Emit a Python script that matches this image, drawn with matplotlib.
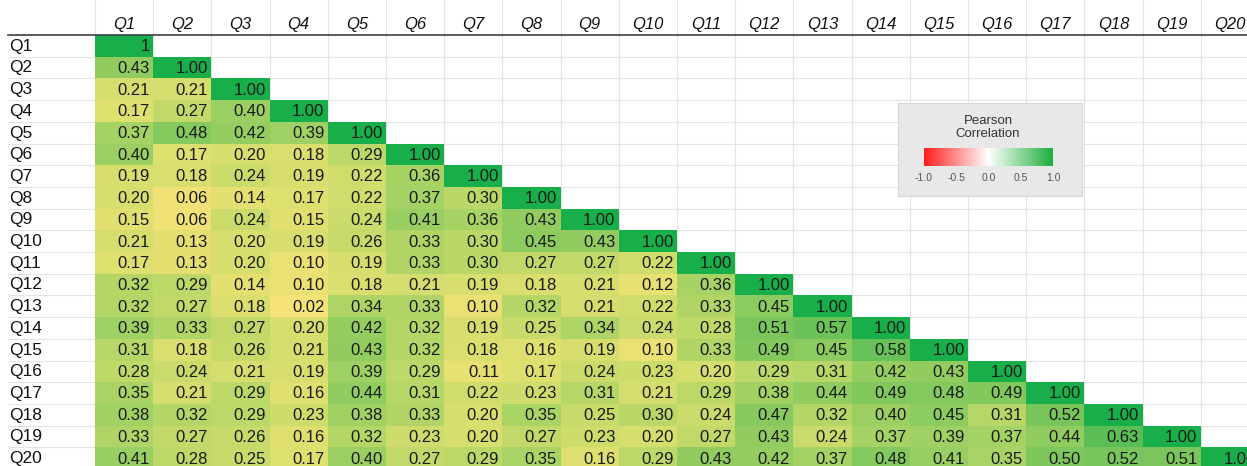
import numpy as np
import matplotlib.pyplot as plt
from matplotlib.colors import LinearSegmentedColormap, Normalize

plt.rcParams['font.family'] = ['Liberation Sans', 'DejaVu Sans']

questions = [f'Q{i}' for i in range(1, 21)]

# lower triangle, row by row (diagonal included)
rows = [
    [1],
    [0.43, 1.00],
    [0.21, 0.21, 1.00],
    [0.17, 0.27, 0.40, 1.00],
    [0.37, 0.48, 0.42, 0.39, 1.00],
    [0.40, 0.17, 0.20, 0.18, 0.29, 1.00],
    [0.19, 0.18, 0.24, 0.19, 0.22, 0.36, 1.00],
    [0.20, 0.06, 0.14, 0.17, 0.22, 0.37, 0.30, 1.00],
    [0.15, 0.06, 0.24, 0.15, 0.24, 0.41, 0.36, 0.43, 1.00],
    [0.21, 0.13, 0.20, 0.19, 0.26, 0.33, 0.30, 0.45, 0.43, 1.00],
    [0.17, 0.13, 0.20, 0.10, 0.19, 0.33, 0.30, 0.27, 0.27, 0.22, 1.00],
    [0.32, 0.29, 0.14, 0.10, 0.18, 0.21, 0.19, 0.18, 0.21, 0.12, 0.36, 1.00],
    [0.32, 0.27, 0.18, 0.02, 0.34, 0.33, 0.10, 0.32, 0.21, 0.22, 0.33, 0.45, 1.00],
    [0.39, 0.33, 0.27, 0.20, 0.42, 0.32, 0.19, 0.25, 0.34, 0.24, 0.28, 0.51, 0.57, 1.00],
    [0.31, 0.18, 0.26, 0.21, 0.43, 0.32, 0.18, 0.16, 0.19, 0.10, 0.33, 0.49, 0.45, 0.58, 1.00],
    [0.28, 0.24, 0.21, 0.19, 0.39, 0.29, 0.11, 0.17, 0.24, 0.23, 0.20, 0.29, 0.31, 0.42, 0.43, 1.00],
    [0.35, 0.21, 0.29, 0.16, 0.44, 0.31, 0.22, 0.23, 0.31, 0.21, 0.29, 0.38, 0.44, 0.49, 0.48, 0.49, 1.00],
    [0.38, 0.32, 0.29, 0.23, 0.38, 0.33, 0.20, 0.35, 0.25, 0.30, 0.24, 0.47, 0.32, 0.40, 0.45, 0.31, 0.52, 1.00],
    [0.33, 0.27, 0.26, 0.16, 0.32, 0.23, 0.20, 0.27, 0.23, 0.20, 0.27, 0.43, 0.24, 0.37, 0.39, 0.37, 0.44, 0.63, 1.00],
    [0.41, 0.28, 0.25, 0.17, 0.40, 0.27, 0.29, 0.35, 0.16, 0.29, 0.43, 0.42, 0.37, 0.48, 0.41, 0.35, 0.50, 0.52, 0.51, 1.00],
]

legend_ticks = [-1.0, -0.5, 0.0, 0.5, 1.0]

n = len(questions)
mat = np.full((n, n), np.nan)
for i, r in enumerate(rows):
    mat[i, :len(r)] = r

# excel-like yellow -> green scale
cell_cmap = LinearSegmentedColormap.from_list('yg', [
    (0.0, '#F7E27B'), (0.1, '#EBE073'), (0.2, '#D6DE6D'), (0.3, '#B9D767'),
    (0.4, '#9BCF62'), (0.5, '#7EC75C'), (0.65, '#55BC55'), (1.0, '#18AF4A')])

W, H = 1247, 466
fig = plt.figure(figsize=(W / 100, H / 100), dpi=100)
ax = fig.add_axes([0, 0, 1, 1])

# pixel layout -> cell units
x0, cw = 95, 58.2
y0, rh = 35, 21.7
ax.set_xlim(-x0 / cw, (W - x0) / cw)
ax.set_ylim((H - y0) / rh, -y0 / rh)
ax.axis('off')
left = -87 / cw

# sheet gridlines
for j in range(n + 1):
    ax.plot([j, j], [-y0 / rh, n + 1], color='#E4E4E4', lw=0.8, zorder=0)
for i in range(1, n + 1):
    ax.plot([left, n + 1], [i, i], color='#E4E4E4', lw=0.8, zorder=0)

ax.pcolormesh(np.arange(n + 1), np.arange(n + 1), np.ma.masked_invalid(mat),
              cmap=cell_cmap, norm=Normalize(0, 1), zorder=1)

ax.plot([left, n + 1], [0, 0], color='#404040', lw=1.2, zorder=2)

for j, q in enumerate(questions):
    ax.text(j + 0.5, -0.5, q, ha='center', va='center', fontsize=12,
            style='italic', color='#111111')
    ax.text(left + 0.02, j + 0.52, q, ha='left', va='center', fontsize=12.5,
            color='#111111')

for i in range(n):
    for j in range(i + 1):
        v = mat[i, j]
        s = '1' if (i == 0 and j == 0) else f'{v:.2f}'
        ax.text(j + 1 - 0.06, i + 0.54, s, ha='right', va='center',
                fontsize=12, color='#1A1A1A', zorder=3, clip_on=True)

# legend box
box = fig.add_axes([898 / W, 1 - 196 / H, 184 / W, 93 / H])
box.set_facecolor('#E8E8E8')
box.set_xticks([])
box.set_yticks([])
for sp in box.spines.values():
    sp.set_color('#D6D6D6')
fig.text(988 / W, 1 - 120.5 / H, 'Pearson', ha='center', va='center',
         fontsize=9.5, color='#333333')
fig.text(988 / W, 1 - 134 / H, 'Correlation', ha='center', va='center',
         fontsize=9.5, color='#333333')

leg_cmap = LinearSegmentedColormap.from_list('rwg', ['#FF1E1E', '#FFFFFF', '#1DAE3C'])
cb = fig.add_axes([924 / W, 1 - 166 / H, 129 / W, 18 / H])
cb.imshow(np.linspace(-1, 1, 256)[None, :], aspect='auto', cmap=leg_cmap,
          extent=[-1, 1, 0, 1])
cb.axis('off')
for t in legend_ticks:
    fig.text((924 + (t + 1) / 2 * 129) / W, 1 - 178 / H, f'{t:.1f}',
             ha='center', va='center', fontsize=7.5, color='#555555')

fig.savefig('out.png', dpi=100)
